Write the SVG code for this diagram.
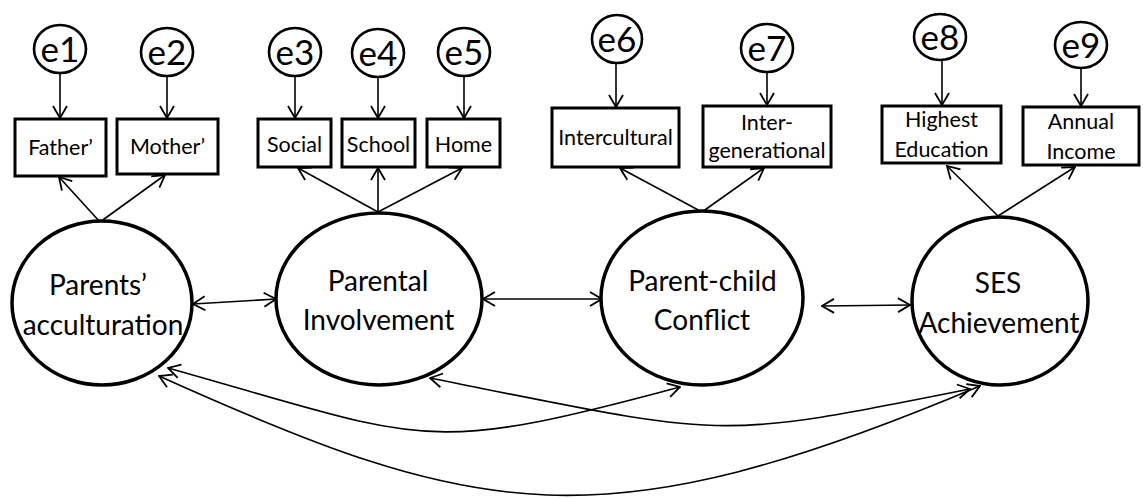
<svg xmlns="http://www.w3.org/2000/svg" width="1143" height="498" viewBox="0 0 1143 498">
<style>
  .lat{fill:#fff;stroke:#000;stroke-width:3.5}
  .box{fill:#fff;stroke:#000;stroke-width:3}
  .err{fill:#fff;stroke:#000;stroke-width:2.6}
  .t{font-family:Lato,"Liberation Sans",sans-serif;fill:#000;text-anchor:middle}
  .tb{font-size:21.5px}
  .te{font-size:35px}
  .tl{font-size:28px}
  .c{fill:none;stroke:#000;stroke-width:1.6}
</style>
<defs>
  <marker id="ah" viewBox="0 -8 14 16" markerWidth="14" markerHeight="16" refX="13" refY="0" orient="auto-start-reverse" markerUnits="userSpaceOnUse">
    <path d="M1,-7 L13,0 L1,7" fill="none" stroke="#000" stroke-width="1.8"/>
  </marker>
</defs>
<rect width="1143" height="498" fill="#fff"/>
<g id="connectors">
  <line class="c" x1="60" y1="73" x2="60" y2="118" marker-end="url(#ah)"/>
  <line class="c" x1="167" y1="76" x2="167" y2="118" marker-end="url(#ah)"/>
  <line class="c" x1="295" y1="76" x2="295" y2="118" marker-end="url(#ah)"/>
  <line class="c" x1="378" y1="77" x2="378" y2="118" marker-end="url(#ah)"/>
  <line class="c" x1="464" y1="76" x2="464" y2="118" marker-end="url(#ah)"/>
  <line class="c" x1="616" y1="63" x2="616" y2="107" marker-end="url(#ah)"/>
  <line class="c" x1="767" y1="72" x2="767" y2="105" marker-end="url(#ah)"/>
  <line class="c" x1="942" y1="61" x2="942" y2="105" marker-end="url(#ah)"/>
  <line class="c" x1="1081" y1="69" x2="1081" y2="106" marker-end="url(#ah)"/>
  <line class="c" x1="100" y1="222" x2="59" y2="177" marker-end="url(#ah)"/>
  <line class="c" x1="100" y1="222" x2="165" y2="175" marker-end="url(#ah)"/>
  <line class="c" x1="378" y1="212" x2="298" y2="168" marker-end="url(#ah)"/>
  <line class="c" x1="378" y1="212" x2="378" y2="168" marker-end="url(#ah)"/>
  <line class="c" x1="378" y1="212" x2="462" y2="168" marker-end="url(#ah)"/>
  <line class="c" x1="702" y1="212" x2="620" y2="168" marker-end="url(#ah)"/>
  <line class="c" x1="702" y1="212" x2="764" y2="168" marker-end="url(#ah)"/>
  <line class="c" x1="998" y1="216" x2="947" y2="166" marker-end="url(#ah)"/>
  <line class="c" x1="998" y1="216" x2="1075" y2="167" marker-end="url(#ah)"/>
  <line class="c" x1="193" y1="304" x2="276" y2="299" marker-start="url(#ah)" marker-end="url(#ah)"/>
  <line class="c" x1="483" y1="299" x2="602" y2="299" marker-start="url(#ah)" marker-end="url(#ah)"/>
  <line class="c" x1="822" y1="306" x2="910" y2="305" marker-start="url(#ah)" marker-end="url(#ah)"/>
  <path class="c" d="M168,368 C428,441 420,457 680,387" marker-start="url(#ah)" marker-end="url(#ah)"/>
  <path class="c" d="M430,378 C730,438 710,441 970,389" marker-start="url(#ah)" marker-end="url(#ah)"/>
  <path class="c" d="M159,376 C479,520 600,546 980,386" marker-start="url(#ah)" marker-end="url(#ah)"/>
</g>
<g id="e1"><ellipse class="err" cx="60" cy="49" rx="26" ry="24"/><text class="t te" x="60" y="62">e1</text></g>
<g id="e2"><ellipse class="err" cx="167" cy="52" rx="26" ry="24"/><text class="t te" x="167" y="65">e2</text></g>
<g id="e3"><ellipse class="err" cx="295" cy="52" rx="26" ry="24"/><text class="t te" x="295" y="65">e3</text></g>
<g id="e4"><ellipse class="err" cx="378" cy="53" rx="26" ry="24"/><text class="t te" x="378" y="66">e4</text></g>
<g id="e5"><ellipse class="err" cx="464" cy="52" rx="26" ry="24"/><text class="t te" x="464" y="65">e5</text></g>
<g id="e6"><ellipse class="err" cx="617" cy="39" rx="25" ry="24"/><text class="t te" x="617" y="52">e6</text></g>
<g id="e7"><ellipse class="err" cx="767" cy="48" rx="26" ry="24"/><text class="t te" x="767" y="61">e7</text></g>
<g id="e8"><ellipse class="err" cx="940" cy="37" rx="26" ry="23"/><text class="t te" x="940" y="50">e8</text></g>
<g id="e9"><ellipse class="err" cx="1081" cy="45" rx="26" ry="23"/><text class="t te" x="1081" y="58">e9</text></g>
<g id="father"><rect class="box" x="15" y="119" width="91" height="57"/><text class="t tb" x="60.5" y="155">Father’</text></g>
<g id="mother"><rect class="box" x="117" y="119" width="101" height="55"/><text class="t tb" x="167.5" y="154">Mother’</text></g>
<g id="social"><rect class="box" x="258" y="119" width="73" height="48"/><text class="t tb" x="294.5" y="152">Social</text></g>
<g id="school"><rect class="box" x="342" y="119" width="73" height="48"/><text class="t tb" x="378.5" y="152">School</text></g>
<g id="home"><rect class="box" x="427" y="119" width="73" height="48"/><text class="t tb" x="463.5" y="152">Home</text></g>
<g id="intercultural"><rect class="box" x="552" y="108" width="127" height="59"/><text class="t tb" x="615.5" y="145">Intercultural</text></g>
<g id="intergenerational"><rect class="box" x="703" y="106" width="128" height="61"/><text class="t tb" x="767" y="130">Inter-</text><text class="t tb" x="767" y="158">generational</text></g>
<g id="education"><rect class="box" x="882" y="106" width="119" height="57"/><text class="t tb" x="941.5" y="127">Highest</text><text class="t tb" x="941.5" y="157">Education</text></g>
<g id="income"><rect class="box" x="1023" y="107" width="116" height="58"/><text class="t tb" x="1081" y="129">Annual</text><text class="t tb" x="1081" y="159">Income</text></g>
<g id="acculturation"><ellipse class="lat" cx="102" cy="303" rx="90" ry="82"/><text class="t tl" x="98" y="295">Parents’</text><text class="t tl" x="103" y="335">acculturation</text></g>
<g id="involvement"><ellipse class="lat" cx="379" cy="299" rx="103" ry="86"/><text class="t tl" x="378" y="291">Parental</text><text class="t tl" x="378.5" y="330">Involvement</text></g>
<g id="conflict"><ellipse class="lat" cx="702" cy="298" rx="101" ry="87"/><text class="t tl" x="702.5" y="291">Parent-child</text><text class="t tl" x="702" y="330">Conflict</text></g>
<g id="ses"><ellipse class="lat" cx="1000" cy="301" rx="88" ry="84"/><text class="t tl" x="998" y="293">SES</text><text class="t tl" x="999" y="333">Achievement</text></g>
</svg>
